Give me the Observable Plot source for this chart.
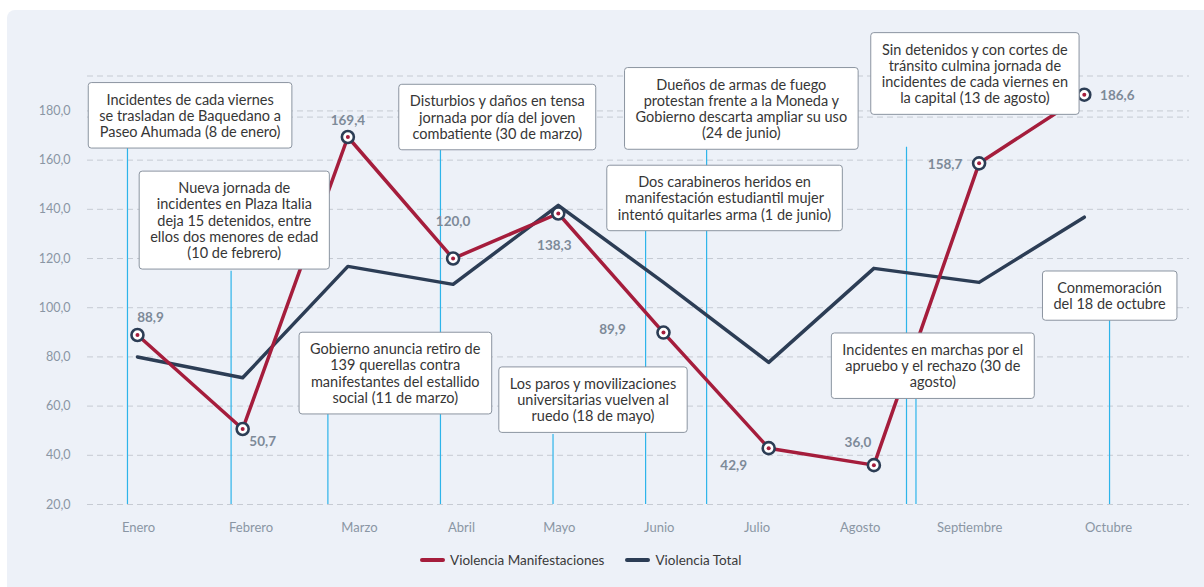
<!DOCTYPE html>
<html>
<head>
<meta charset="utf-8">
<script src="https://cdn.jsdelivr.net/npm/d3@7"></script>
<script src="https://cdn.jsdelivr.net/npm/@observablehq/plot@0.6"></script>
<style>
  html, body { margin: 0; padding: 0; background: #ffffff; }
  body { width: 1204px; height: 587px; position: relative; overflow: hidden; font-family: Lato, "Open Sans", sans-serif; }
  #panel { position: absolute; left: 7px; top: 10px; width: 1210px; height: 600px; background: #edf1f8; border-radius: 8px; }
  #chart { position: absolute; left: 0; top: 0; }
  #legend { position: absolute; left: 420px; top: 552px; display: flex; align-items: center; font-size: 13.5px; color: #3a3a3a; }
  .item { display: flex; align-items: center; margin-right: 21px; }
  .sw { width: 25px; height: 4px; border-radius: 2px; margin-right: 5px; }
</style>
</head>
<body>
<div id="panel"></div>
<div id="chart"></div>
<div id="legend"></div>
<script>
// ---------- data ----------
const months = ["Enero","Febrero","Marzo","Abril","Mayo","Junio","Julio","Agosto","Septiembre","Octubre"];
const violenciaManifestaciones = [88.9, 50.7, 169.4, 120.0, 138.3, 89.9, 42.9, 36.0, 158.7, 186.6];
const violenciaTotal = [80.0, 71.5, 116.8, 109.5, 141.6, 110.3, 77.8, 116.0, 110.3, 136.8];
const monthTickPositions = [0.01, 1.08, 2.11, 3.08, 4.01, 4.96, 5.89, 6.87, 7.91, 9.23];
const yTicks = [20, 40, 60, 80, 100, 120, 140, 160, 180];
const extraGrid = [177.5, 194.2];
const eventTexts = [
  "Incidentes de cada viernes\nse trasladan de Baquedano a\nPaseo Ahumada (8 de enero)",
  "Nueva jornada de\nincidentes en Plaza Italia\ndeja 15 detenidos, entre\nellos dos menores de edad\n(10 de febrero)",
  "Gobierno anuncia retiro de\n139 querellas contra\nmanifestantes del estallido\nsocial (11 de marzo)",
  "Disturbios y daños en tensa\njornada por día del joven\ncombatiente (30 de marzo)",
  "Los paros y movilizaciones\nuniversitarias vuelven al\nruedo (18 de mayo)",
  "Dos carabineros heridos en\nmanifestación estudiantil mujer\nintentó quitarles arma (1 de junio)",
  "Dueños de armas de fuego\nprotestan frente a la Moneda y\nGobierno descarta ampliar su uso\n(24 de junio)",
  "Sin detenidos y con cortes de\ntránsito culmina jornada de\nincidentes de cada viernes en\nla capital (13 de agosto)",
  "Incidentes en marchas por el\napruebo y el rechazo (30 de\nagosto)",
  "Conmemoración\ndel 18 de octubre"
];
const eventDatePositions = [-0.095, 0.89, 1.81, 2.88, 3.95, 4.83, 5.41, 7.31, 7.40, 9.24];
const eventLineTop = [164.8, 114.8, 57.0, 164.0, 48.5, 131.1, 164.0, 165.2, 62.7, 95.3];
const eventBoxX = [0.50, 0.92, 2.45, 3.42, 4.33, 5.58, 5.74, 7.96, 7.56, 9.24];
const eventBoxY = [178.1, 135.5, 73.3, 177.4, 62.5, 144.5, 180.9, 195.1, 76.3, 104.8];

// label offsets (styling, px)
const labelOffsets = [[13,-17],[20,13],[0,-16],[0,-37],[-4,32],[-51,-3],[-35,18],[-16,-22],[-34,1],[33,1]];

const RED = "#a51d3c", NAVY = "#2c3d55";
const fmt = d => d.toFixed(1).replace(".", ",");

const manif = months.map((m, i) => ({i, m, v: violenciaManifestaciones[i]}));
const total = months.map((m, i) => ({i, m, v: violenciaTotal[i]}));
const events = eventTexts.map((t, k) => ({t, x: eventDatePositions[k], top: eventLineTop[k], bx: eventBoxX[k], by: eventBoxY[k]}));

const valueMarks = manif.map((d, k) => Plot.text([d], {
  x: "i", y: "v", text: p => fmt(p.v), dx: labelOffsets[k][0], dy: labelOffsets[k][1],
  fill: "#7d8a98", fontWeight: "bold", fontSize: 13.5
}));

const chart = Plot.plot({
  width: 1204,
  height: 540,
  marginLeft: 87,
  marginRight: 15,
  marginTop: 76,
  marginBottom: 36,
  style: {fontFamily: "Lato, 'Open Sans', sans-serif", background: "transparent", overflow: "visible"},
  x: {type: "linear", domain: [-0.475, 10]},
  y: {domain: [20, 194]},
  marks: [
    Plot.ruleY(yTicks, {stroke: "#c6cbd3", strokeDasharray: "6,4", strokeWidth: 1}),
    Plot.ruleY(extraGrid, {stroke: "#c6cbd3", strokeDasharray: "6,4", strokeWidth: 1}),
    Plot.ruleX(events, {x: "x", y1: 20, y2: "top", stroke: "#2db4ea", strokeWidth: 1.2}),
    Plot.line(total, {x: "i", y: "v", stroke: NAVY, strokeWidth: 3.5, strokeLinejoin: "round", strokeLinecap: "round"}),
    Plot.line(manif, {x: "i", y: "v", stroke: RED, strokeWidth: 3.5, strokeLinejoin: "round", strokeLinecap: "round"}),
    Plot.dot(manif, {x: "i", y: "v", r: 6, fill: "white", stroke: NAVY, strokeWidth: 2.6}),
    Plot.dot(manif, {x: "i", y: "v", r: 2, fill: RED}),
    ...valueMarks,
    Plot.axisY(yTicks, {tickSize: 0, tickPadding: 17, tickFormat: fmt, fontSize: 12.5, color: "#8a96a4"}),
    Plot.axisX(monthTickPositions, {tickSize: 0, tickPadding: 18, tickFormat: (d, k) => months[k], fontSize: 13, color: "#8a96a4", label: null}),
    Plot.text(events, {x: "bx", y: "by", text: "t", fontSize: 14.5, lineHeight: 1.12, fill: "#363636"})
  ]
});

document.getElementById("chart").append(chart);

// boxes behind annotation texts (the multi-line texts)
const SVGNS = "http://www.w3.org/2000/svg";
chart.querySelectorAll("text").forEach(t => {
  if (t.querySelectorAll("tspan").length < 2) return;
  const bb = t.getBBox();
  const r = document.createElementNS(SVGNS, "rect");
  const px = 11, py = 8;
  r.setAttribute("x", bb.x - px);
  r.setAttribute("y", bb.y - py);
  r.setAttribute("width", bb.width + 2 * px);
  r.setAttribute("height", bb.height + 2 * py);
  r.setAttribute("rx", 3);
  r.setAttribute("fill", "#ffffff");
  r.setAttribute("stroke", "#8b94a0");
  r.setAttribute("stroke-width", 1);
  const tr = t.getAttribute("transform");
  if (tr) r.setAttribute("transform", tr);
  t.parentNode.insertBefore(r, t);
});

// legend
const legend = document.getElementById("legend");
[["Violencia Manifestaciones", RED], ["Violencia Total", NAVY]].forEach(([name, c]) => {
  const it = document.createElement("div");
  it.className = "item";
  const sw = document.createElement("div");
  sw.className = "sw";
  sw.style.background = c;
  const tx = document.createElement("span");
  tx.textContent = name;
  it.append(sw, tx);
  legend.append(it);
});
</script>
</body>
</html>
